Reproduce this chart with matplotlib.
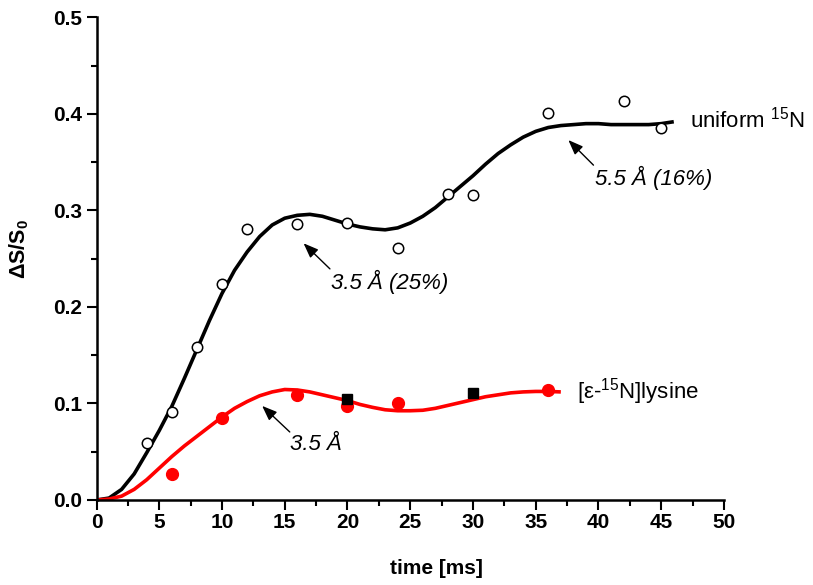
import matplotlib
matplotlib.use("Agg")
import matplotlib.pyplot as plt

plt.rcParams['font.family'] = ['Liberation Sans', 'DejaVu Sans']
plt.rcParams['mathtext.fontset'] = 'custom'
plt.rcParams['mathtext.rm'] = 'Liberation Sans'
plt.rcParams['mathtext.it'] = 'Liberation Sans:italic'
plt.rcParams['mathtext.bf'] = 'Liberation Sans:bold'

# measured data: uniform 15N (open circles)
uni_t = [4, 6, 8, 10, 12, 16, 20, 24, 28, 30, 36, 42, 45]
uni_v = [0.059, 0.091, 0.159, 0.224, 0.281, 0.286, 0.287, 0.261, 0.317, 0.316, 0.401, 0.413, 0.385]

# measured data: [eps-15N]lysine (red filled circles)
lys_t = [6, 10, 16, 20, 24, 36]
lys_v = [0.027, 0.085, 0.109, 0.097, 0.101, 0.114]

# black squares
sq_t = [20, 30]
sq_v = [0.105, 0.111]

# fitted curve, uniform 15N
fit_uni_t = list(range(0, 47))
fit_uni_v = [0.000, 0.002, 0.011, 0.027, 0.049, 0.072, 0.097, 0.126, 0.156, 0.186, 0.214,
             0.238, 0.257, 0.273, 0.285, 0.292, 0.295, 0.296, 0.294, 0.290, 0.286, 0.283,
             0.281, 0.280, 0.282, 0.287, 0.294, 0.303, 0.314, 0.325, 0.336, 0.348, 0.359,
             0.368, 0.376, 0.382, 0.386, 0.388, 0.389, 0.390, 0.390, 0.389, 0.389, 0.389,
             0.389, 0.390, 0.392]

# fitted curve, lysine
fit_lys_t = list(range(0, 38))
fit_lys_v = [0.000, 0.001, 0.004, 0.011, 0.021, 0.033, 0.045, 0.056, 0.066, 0.076, 0.086,
             0.095, 0.102, 0.108, 0.112, 0.1145, 0.114, 0.112, 0.109, 0.106, 0.103, 0.099,
             0.096, 0.0935, 0.0925, 0.0925, 0.093, 0.095, 0.098, 0.101, 0.104, 0.107, 0.109,
             0.111, 0.112, 0.1125, 0.1125, 0.112]

x_ticks = [0, 5, 10, 15, 20, 25, 30, 35, 40, 45, 50]
y_ticks = [0.0, 0.1, 0.2, 0.3, 0.4, 0.5]

fig = plt.figure(figsize=(8.13, 5.85), dpi=100)
ax = fig.add_axes([0.1187, 0.1453, 0.7718, 0.8248])

ax.plot(fit_uni_t, fit_uni_v, color='black', lw=2.6, solid_capstyle='butt',
        solid_joinstyle='round', zorder=2)
ax.plot(fit_lys_t, fit_lys_v, color='#ff0000', lw=2.6, solid_capstyle='butt',
        solid_joinstyle='round', zorder=2)
ax.plot(uni_t, uni_v, 'o', ms=7.5, mfc='white', mec='black', mew=1.1, zorder=3)
ax.plot(lys_t, lys_v, 'o', ms=8.5, mfc='#ff0000', mec='#ff0000', zorder=3)
ax.plot(sq_t, sq_v, 's', ms=6.5, mfc='black', mec='black', zorder=3)

ax.set_xlim(0, 50)
ax.set_ylim(0, 0.5)
ax.set_xticks(x_ticks)
ax.set_yticks(y_ticks)
ax.set_xticks([v + 2.5 for v in x_ticks[:-1]], minor=True)
ax.set_yticks([v + 0.05 for v in y_ticks[:-1]], minor=True)
ax.set_yticklabels(['%.1f' % v for v in y_ticks])
for s in ['top', 'right']:
    ax.spines[s].set_visible(False)
for s in ['left', 'bottom']:
    ax.spines[s].set_linewidth(1.8)
ax.tick_params(which='major', direction='out', length=7.5, width=1.5, labelsize=15)
ax.tick_params(axis='y', which='major', pad=3)
ax.tick_params(axis='x', which='major', pad=2)
ax.tick_params(which='minor', direction='out', length=4.5, width=1.5)
for lab in ax.get_xticklabels() + ax.get_yticklabels():
    lab.set_fontweight('bold')

ax.set_xlabel('time [ms]', fontsize=15, fontweight='bold')
ax.xaxis.set_label_coords(0.541, -0.122)
ax.set_ylabel(r'$\mathbf{\Delta S/S_0}$', fontsize=15.5)
ax.yaxis.set_label_coords(-0.104, 0.52)

arrow = dict(arrowstyle='-|>,head_length=0.9,head_width=0.35', color='black', lw=1.0,
             shrinkA=0, shrinkB=0)
fs_ann = 16
ax.annotate('', xy=(13.2, 0.0975), xytext=(15.4, 0.0705), arrowprops=arrow)
ax.text(15.4, 0.057, '3.5 Å', fontsize=fs_ann, style='italic', va='center', ha='left')
ax.annotate('', xy=(16.5, 0.266), xytext=(18.6, 0.2395), arrowprops=arrow)
ax.text(18.7, 0.226, '3.5 Å (25%)', fontsize=fs_ann, style='italic', va='center', ha='left')
ax.annotate('', xy=(37.6, 0.373), xytext=(39.6, 0.347), arrowprops=arrow)
ax.text(39.7, 0.334, '5.5 Å (16%)', fontsize=fs_ann, style='italic', va='center', ha='left')

ax.text(47.3, 0.3945, 'uniform $^{15}$N', fontsize=fs_ann, va='center', ha='left', clip_on=False)
ax.text(38.3, 0.112, '[ε-$^{15}$N]lysine', fontsize=fs_ann, va='center', ha='left', clip_on=False)

fig.savefig('out.png', dpi=100)
